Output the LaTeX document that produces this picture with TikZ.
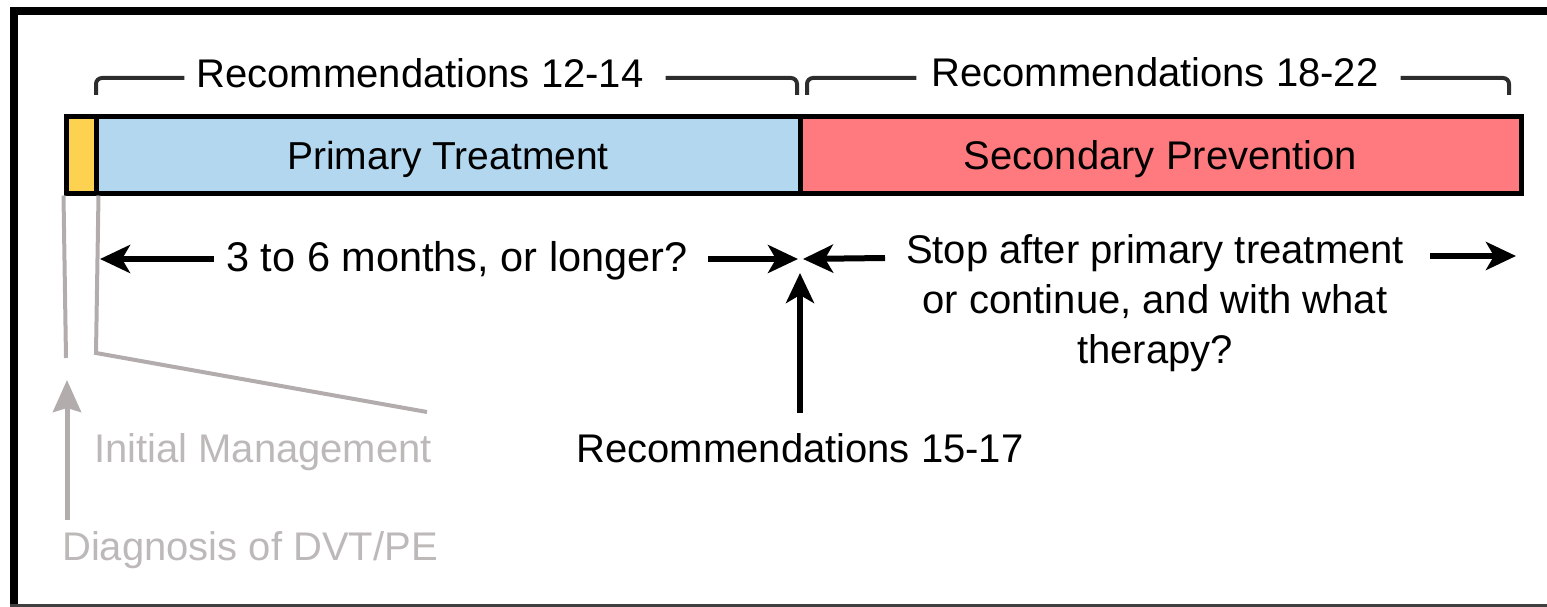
\documentclass[tikz,border=0pt]{standalone}
\usepackage{fontspec}
\setmainfont{Liberation Sans}
\usetikzlibrary{arrows.meta}
\definecolor{ybox}{RGB}{253,210,80}
\definecolor{bbox}{RGB}{179,215,238}
\definecolor{rbox}{RGB}{255,122,127}
\definecolor{gtext}{RGB}{190,185,185}
\definecolor{gline}{RGB}{178,172,172}
\definecolor{brkcol}{RGB}{45,45,45}
\begin{document}
\begin{tikzpicture}[x=1pt,y=-1pt,
  lbl/.style={font=\fontsize{40}{50}\selectfont, inner sep=0pt, anchor=base},
  glbl/.style={lbl, text=gtext},
  barbox/.style={draw=black, line width=5pt, inner sep=0pt, minimum height=76pt,
     text height=29pt, text depth=0pt},
  brk/.style={draw=brkcol, line width=4pt, rounded corners=6pt},
  bigarrow/.style={line width=6pt, -{Stealth[length=30pt,width=28pt,inset=8pt]}},
  grayarrow/.style={draw=gline, line width=5pt, -{Stealth[length=32pt,width=28pt,inset=4pt]}},
  gl/.style={draw=gline, line width=4pt}]
\useasboundingbox (0,0) rectangle (1547,607);
% frame
\draw[line width=8pt] (14,607) -- (14,11) -- (1547,11);
\draw[line width=2.5pt, black!75] (10,605.5) -- (1547,605.5);
% bar
\node[barbox, fill=ybox, minimum width=30pt] (init) at (81,155) {};
\node[barbox, fill=bbox, minimum width=704pt, font=\fontsize{39}{48}\selectfont] (prim) at (448,155) {Primary Treatment};
\node[barbox, fill=rbox, minimum width=721pt, font=\fontsize{40}{48}\selectfont] (sec) at (1160.5,155) {Secondary Prevention};
% bracket labels
\node[lbl] (r1) at (420,88) {Recommendations 12-14};
\node[lbl] (r2) at (1155,87) {Recommendations 18-22};
\coordinate (b1a) at (96,95);
\coordinate (b1b) at (797,95);
\coordinate (b2a) at (807,95);
\coordinate (b2b) at (1509,95);
\draw[brk] (b1a) -- (b1a |- 0,78) -- ([xshift=-12pt]r1.west |- 0,78);
\draw[brk] ([xshift=22pt]r1.east |- 0,78) -- (b1b |- 0,78) -- (b1b);
\draw[brk] (b2a) -- (b2a |- 0,78) -- ([xshift=-15pt]r2.west |- 0,78);
\draw[brk] ([xshift=22pt]r2.east |- 0,78) -- (b2b |- 0,78) -- (b2b);
% months row
\node[lbl, font=\fontsize{41.5}{50}\selectfont] (mon) at (457,271) {3 to 6 months, or longer?};
\coordinate (tipL) at (100,259);
\coordinate (tipM1) at (798,259);
\coordinate (tipM2) at (803,259);
\coordinate (tipR) at (1516,256);
\draw[bigarrow] ([xshift=-12pt]mon.west |- tipL) -- (tipL);
\draw[bigarrow] ([xshift=20pt]mon.east |- tipM1) -- (tipM1);
\node[lbl, align=center] (stop) at (1155,363) {Stop after primary treatment\\or continue, and with what\\therapy?};
\draw[bigarrow] (885,258) -- (tipM2);
\draw[bigarrow] (1430,256) -- (tipR);
% vertical arrow
\node[lbl] (r3) at (800,462) {Recommendations 15-17};
\coordinate (tipU) at (800,273);
\draw[bigarrow] (r3.north |- 0,413) -- (tipU);
% gray part
\node[glbl] (im) at (263,462) {Initial Management};
\node[glbl] (dx) at (250,560) {Diagnosis of DVT/PE};
\coordinate (g1) at (66,358);
\coordinate (g2) at (96,353);
\coordinate (g3) at (427,412);
\draw[gl] (init.south west) -- (g1);
\draw[gl] (init.south east) -- (g2) -- (g3);
\coordinate (gtip) at (67,380);
\draw[grayarrow] (67,520) -- (gtip);
\end{tikzpicture}
\end{document}
